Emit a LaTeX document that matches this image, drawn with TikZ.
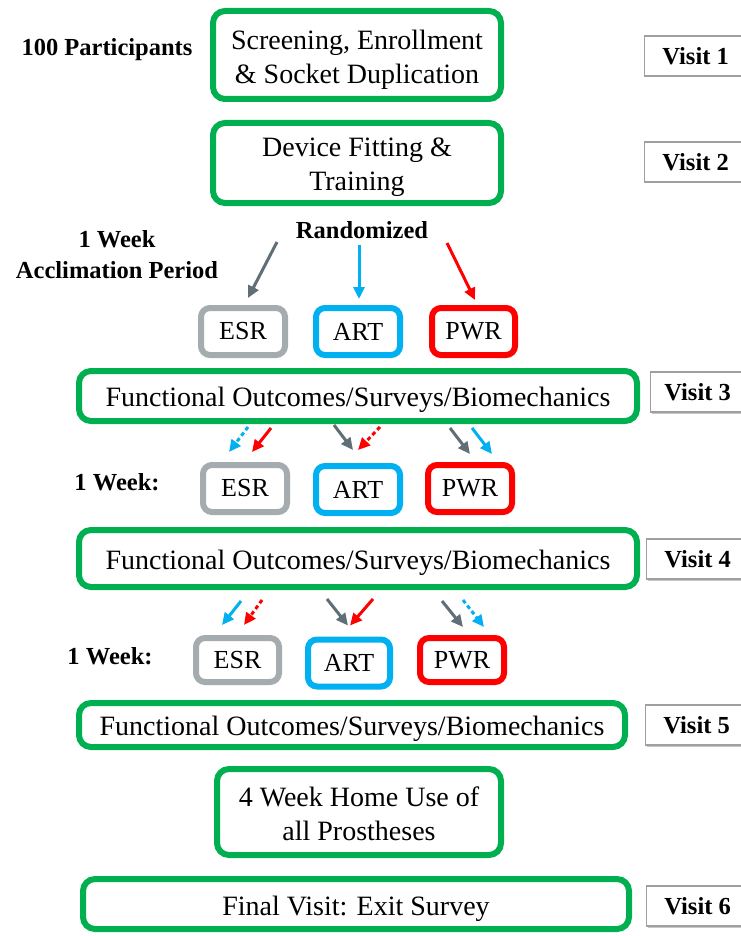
\documentclass[tikz,border=0pt]{standalone}
\usepackage{fontspec}
\setmainfont{LiberationSerif}[Extension=.ttf, UprightFont=*-Regular, BoldFont=*-Bold, ItalicFont=*-Italic, BoldItalicFont=*-BoldItalic]
\usetikzlibrary{arrows.meta,calc,shadows}
\definecolor{grn}{RGB}{0,176,80}
\definecolor{esrc}{RGB}{165,172,175}
\definecolor{artc}{RGB}{0,176,240}
\definecolor{pwrc}{RGB}{255,0,0}
\definecolor{arrg}{RGB}{96,110,118}
\newcommand\lowstrut{\rule{0pt}{28pt}}
\begin{document}
\begin{tikzpicture}[x=1pt,y=-1pt,
  gbox/.style={draw=grn, line width=6pt, rounded corners=12pt, align=center,
    font=\fontsize{28}{34}\selectfont, inner sep=0pt, fill=white},
  sbox/.style={line width=6pt, rounded corners=9pt, font=\fontsize{26}{30}\selectfont,
    inner sep=0pt, minimum width=84pt, minimum height=47pt, fill=white},
  vbox/.style={draw=gray!75, line width=1.2pt, fill=white, anchor=west,
    font=\bfseries\fontsize{24.5}{28}\selectfont, minimum height=40pt, inner sep=0pt,
    drop shadow={shadow xshift=1pt, shadow yshift=-1.5pt, fill=gray!45, opacity=1}},
  lbl/.style={font=\bfseries\fontsize{24.5}{31}\selectfont, align=center, inner sep=0pt},
  arr/.style={line width=3pt, -{Triangle[length=12pt,width=11pt]}},
  dotted line/.style={dash pattern=on 4pt off 3pt}]
\useasboundingbox (0,0) rectangle (740,936);
\fill[white] (0,0) rectangle (740,936);

% main green boxes
\node[gbox, minimum width=288pt, minimum height=88pt] (scr) at (357,55) {\lowstrut Screening, Enrollment\\\& Socket Duplication};
\node[gbox, minimum width=288pt, minimum height=80pt] (dev) at (357,163) {\lowstrut Device Fitting \&\\Training};
\node[gbox, minimum width=558pt, minimum height=50pt] (f3) at (358,396) {\lowstrut Functional Outcomes/Surveys/Biomechanics};
\node[gbox, minimum width=558pt, minimum height=57pt] (f4) at (358,558.5) {\lowstrut Functional Outcomes/Surveys/Biomechanics};
\node[gbox, minimum width=546pt, minimum height=44pt] (f5) at (352,725) {\lowstrut Functional Outcomes/Surveys/Biomechanics};
\node[gbox, minimum width=284pt, minimum height=86pt] (home) at (359,812) {\rule{0pt}{24pt}4 Week Home Use of\\all Prostheses};
\node[gbox, minimum width=546pt, minimum height=50pt] (fin) at (356,904) {\rule{0pt}{30pt}Final Visit: Exit Survey};

% small boxes
\node[sbox, draw=esrc] (esr1) at (243,331.5) {ESR};
\node[sbox, draw=artc] (art1) at (358,331.5) {ART};
\node[sbox, draw=pwrc, minimum width=83pt] (pwr1) at (473.5,331.5) {PWR};
\node[sbox, draw=esrc] (esr2) at (245,488.5) {ESR};
\node[sbox, draw=artc] (art2) at (358,489.5) {ART};
\node[sbox, draw=pwrc] (pwr2) at (470,488.5) {PWR};
\node[sbox, draw=esrc, minimum width=83pt, minimum height=44pt] (esr3) at (237.5,660) {ESR};
\node[sbox, draw=artc, minimum width=82pt] (art3) at (349,663) {ART};
\node[sbox, draw=pwrc, minimum height=44pt] (pwr3) at (462,660) {PWR};

% visit boxes
\node[vbox, minimum width=102pt] (v1) at (644,56) {Visit 1};
\node[vbox, minimum width=102pt] (v2) at (644,162) {Visit 2};
\node[vbox, minimum width=94pt] (v3) at (650,392) {Visit 3};
\node[vbox, minimum width=102pt] (v4) at (646,559) {Visit 4};
\node[vbox, minimum width=102pt] (v5) at (645,725) {Visit 5};
\node[vbox, minimum width=102pt] (v6) at (646,906) {Visit 6};

% labels
\node[lbl] (part) at (107,50) {100 Participants};
\node[lbl] (accl) at (117,255) {1 Week\\Acclimation Period};
\node[lbl] (rand) at (362,230) {Randomized};
\node[lbl] (wk2) at (117,482) {1 Week:};
\node[lbl] (wk3) at (110,656) {1 Week:};

% arrows set 1 (randomization)
\coordinate (r1a) at (277,242);
\coordinate (r1b) at (359,245);
\coordinate (r1c) at (447,243);
\draw[arr, arrg] (r1a) -- ($(esr1.north)+(5,-7)$);
\draw[arr, artc] (r1b) -- ($(art1.north)+(1,-6)$);
\draw[arr, pwrc] (r1c) -- ($(pwr1.north)+(1.5,-5)$);

% arrows set 2
\coordinate (s2a) at (248,427);
\coordinate (s2b) at (271,428);
\coordinate (s2c) at (334,425);
\coordinate (s2d) at (380,427);
\coordinate (s2e) at (450,428);
\coordinate (s2f) at (472,428);
\draw[arr, artc, dotted line] (s2a) -- ($(esr2.north)+(-16,-10)$);
\draw[arr, pwrc] (s2b) -- ($(esr2.north)+(7,-10)$);
\draw[arr, arrg] (s2c) -- ($(art2.north)+(-5,-13)$);
\draw[arr, pwrc, dotted line] (s2d) -- ($(art2.north)+(0,-13)$);
\draw[arr, arrg] (s2e) -- ($(pwr2.north)+(0,-8)$);
\draw[arr, artc] (s2f) -- ($(pwr2.north)+(22,-8)$);

% arrows set 3
\coordinate (s3a) at (241,601);
\coordinate (s3b) at (262,600);
\coordinate (s3c) at (327,599);
\coordinate (s3d) at (373,599);
\coordinate (s3e) at (442,601);
\coordinate (s3f) at (463,600);
\draw[arr, artc] (s3a) -- ($(esr3.north)+(-15.5,-10)$);
\draw[arr, pwrc, dotted line] (s3b) -- ($(esr3.north)+(6.5,-10)$);
\draw[arr, arrg] (s3c) -- ($(art3.north)+(-1,-11)$);
\draw[arr, pwrc] (s3d) -- ($(art3.north)+(1,-11)$);
\draw[arr, arrg] (s3e) -- ($(pwr3.north)+(1,-8)$);
\draw[arr, artc, dotted line] (s3f) -- ($(pwr3.north)+(22,-8)$);
\end{tikzpicture}
\end{document}
